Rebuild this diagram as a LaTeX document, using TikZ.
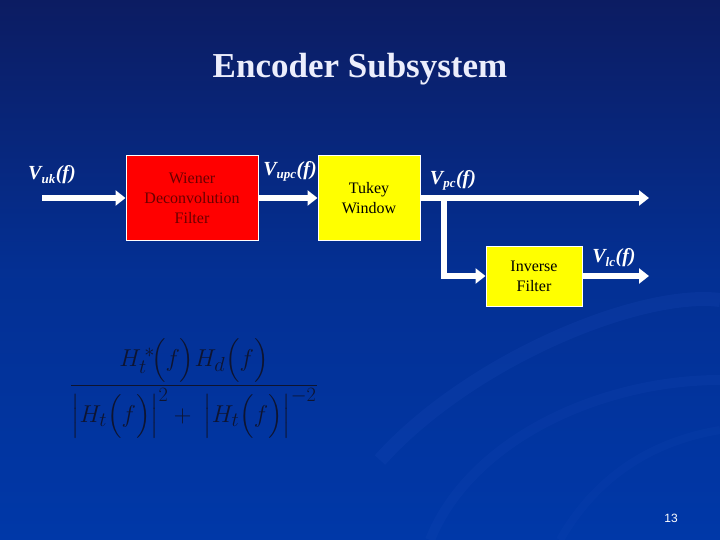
\documentclass[tikz,border=0pt]{standalone}
\usepackage{amsmath}
\usepackage{fontspec}
\setmainfont{Liberation Serif}
\newfontfamily\pagefont{Liberation Sans}
\usetikzlibrary{arrows.meta}
\definecolor{bgtop}{HTML}{0C1C62}
\definecolor{bgbot}{HTML}{0038A8}
\definecolor{swirl}{HTML}{1A4AB8}
\definecolor{titlec}{HTML}{ECEEFC}
\definecolor{redbox}{HTML}{FF0000}
\definecolor{redtext}{HTML}{6A0000}
\definecolor{yelbox}{HTML}{FFFF00}
\definecolor{formc}{HTML}{0E1430}
\tikzset{
  blockbox/.style={draw=white, line width=1pt, minimum height=84pt, align=center, font=\fontsize{16}{20}\selectfont, inner sep=2pt},
  flow/.style={draw=white, line width=5.5pt, -{Triangle[width=15pt,length=10pt]}},
  siglabel/.style={text=white, font=\fontsize{20}{24}\selectfont\bfseries\itshape, inner sep=0pt},
}
\begin{document}
\begin{tikzpicture}[x=1pt,y=-1pt]
\useasboundingbox (0,0) rectangle (720,540);
\shade[top color=bgtop, bottom color=bgbot, middle color=bgbot!70!bgtop] (0,0) rectangle (720,540);
% faint swirl
\begin{scope}
\clip (0,0) rectangle (720,540);
\draw[swirl, opacity=0.22, line width=14pt] (380,460) .. controls (470,360) and (640,290) .. (720,300);
\draw[swirl, opacity=0.18, line width=10pt] (430,540) .. controls (470,440) and (600,380) .. (720,380);
\draw[swirl, opacity=0.15, line width=8pt] (560,540) .. controls (600,470) and (660,440) .. (720,430);
\end{scope}
% title
\node[text=titlec, font=\fontsize{35}{40}\selectfont\bfseries] (title) at (360,69) {Encoder Subsystem};
% blocks
\node[blockbox, fill=redbox, text=redtext, minimum width=132pt] (wiener) at (192,198) {Wiener\\Deconvolution\\Filter};
\node[blockbox, fill=yelbox, text=black, minimum width=102pt] (tukey) at (369,198) {Tukey\\Window};
\node[blockbox, fill=yelbox, text=black, minimum width=96pt, minimum height=60pt] (inv) at (534,276) {Inverse\\Filter};
% connector endpoints
\coordinate (in) at (42,198);
\coordinate (out1) at (649,198);
\coordinate (br) at (444,198);
\coordinate (out2) at (649,276);
% arrows
\draw[flow] (in) -- (wiener.west);
\draw[flow] (wiener.east) -- (tukey.west);
\draw[flow] (tukey.east) -- (out1);
\draw[flow] (br) |- (inv.west);
\draw[flow] (inv.east) -- (out2);
% labels
\node[siglabel] (luk) at (52,175) {V\textsubscript{\fontsize{13}{14}\selectfont uk}(f)};
\node[siglabel] (lupc) at (290,171) {V\textsubscript{\fontsize{13}{14}\selectfont upc}(f)};
\node[siglabel] (lpc) at (453,180) {V\textsubscript{\fontsize{13}{14}\selectfont pc}(f)};
\node[siglabel] (llc) at (614,258) {V\textsubscript{\fontsize{13}{14}\selectfont lc}(f)};
% formula
\node[text=formc, font=\fontsize{28}{32}\selectfont, inner sep=0pt, scale=0.98] (formula) at (194,388)
  {$\dfrac{H_t^{\,*}\!\Bigl(f\Bigr)H_d\Bigl(f\Bigr)}{\Bigl|H_t\Bigl(f\Bigr)\Bigr|^2+\;\Bigl|H_t\Bigl(f\Bigr)\Bigr|^{-2}}$};
% page number
\node[text=white, font=\pagefont\fontsize{12}{14}\selectfont] (page) at (671,518) {13};
\end{tikzpicture}
\end{document}
